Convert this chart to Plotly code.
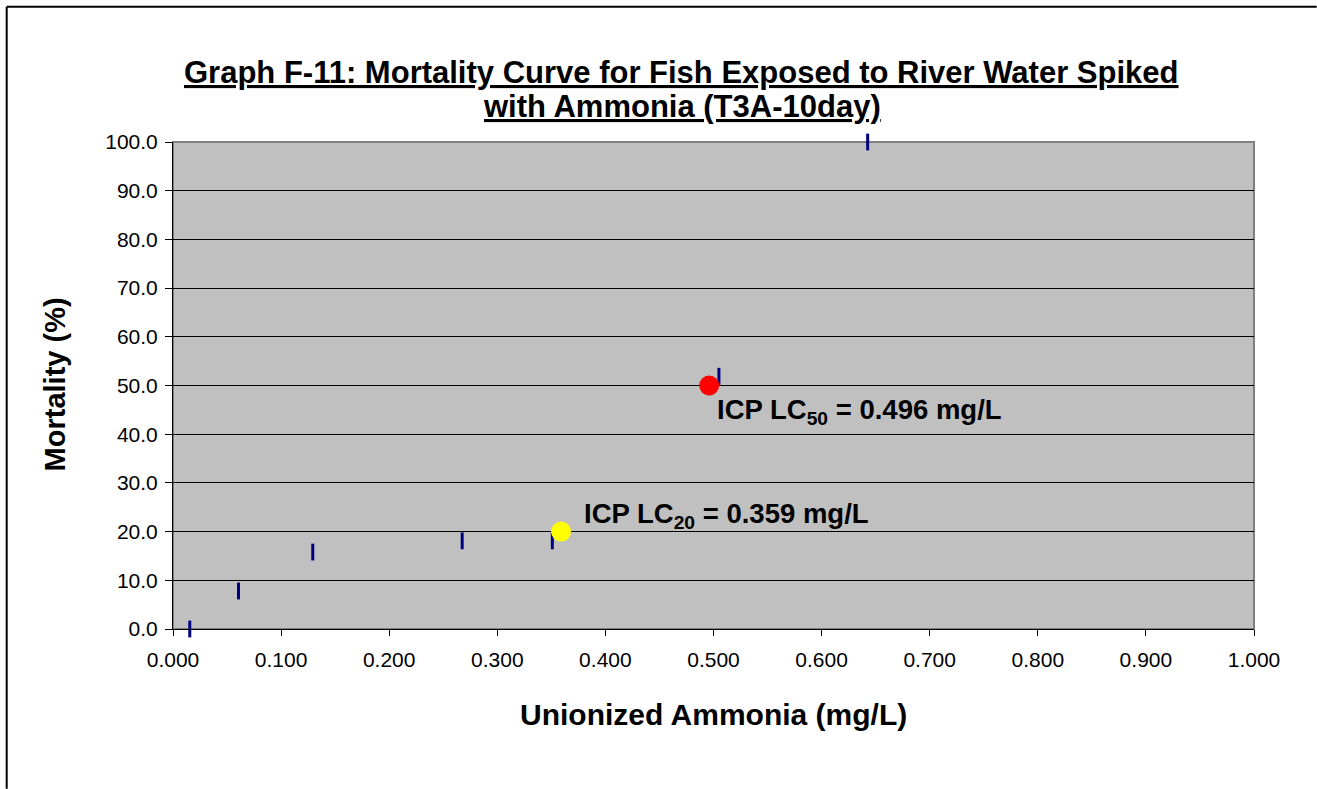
import plotly.graph_objects as go

# Observed mortality at each unionized ammonia concentration
ammonia_mg_l = [0.0155, 0.0606, 0.1293, 0.2675, 0.3509, 0.5050, 0.6426]
mortality_pct = [0.0, 7.8, 15.8, 18.1, 18.1, 51.9, 100.0]

# ICP point estimates
lc_labels = ["ICP LC<sub>50</sub> = 0.496 mg/L", "ICP LC<sub>20</sub> = 0.359 mg/L"]
lc_conc = [0.496, 0.359]
lc_mortality = [50.0, 20.0]
lc_colors = ["#FF0000", "#FFFF00"]

title_lines = ["Graph F-11: Mortality Curve for Fish Exposed to River Water Spiked",
               "with Ammonia (T3A-10day)"]

x_ticks = [i / 10 for i in range(11)]
y_ticks = [i * 10 for i in range(11)]

FONT = "Liberation Sans, Arial, sans-serif"

# plot-area geometry in pixels
L, T, W, H = 173.3, 142.3, 1081.0, 487.0


def px_x(px):
    return (px - L) / W


def px_y(py):
    return (T + H - py) / H


fig = go.Figure()

fig.add_trace(go.Scatter(
    x=ammonia_mg_l, y=mortality_pct, mode="markers", cliponaxis=False,
    marker=dict(symbol="line-ns", size=12, color="#000080",
                line=dict(width=3, color="#000080")),
    showlegend=False, hoverinfo="x+y",
))

for conc, mort, col in zip(lc_conc, lc_mortality, lc_colors):
    fig.add_trace(go.Scatter(
        x=[conc], y=[mort], mode="markers", cliponaxis=False,
        marker=dict(symbol="circle", size=20, color=col, line=dict(width=0)),
        showlegend=False,
    ))

bold = dict(family=FONT, color="black", weight="bold")

annotations = [
    dict(text=f"<u>{title_lines[0]}</u>", xref="paper", yref="paper",
         x=px_x(682), y=px_y(73), xanchor="center", yanchor="middle",
         showarrow=False, font=dict(size=31, **bold)),
    dict(text=f"<u>{title_lines[1]}</u>", xref="paper", yref="paper",
         x=px_x(682), y=px_y(107), xanchor="center", yanchor="middle",
         showarrow=False, font=dict(size=31, **bold)),
    dict(text="Unionized Ammonia (mg/L)", xref="paper", yref="paper",
         x=px_x(713.6), y=px_y(715), xanchor="center", yanchor="middle",
         showarrow=False, font=dict(size=30, **bold)),
    dict(text="Mortality (%)", xref="paper", yref="paper", textangle=-90,
         x=px_x(55), y=px_y(385), xanchor="center", yanchor="middle",
         showarrow=False, font=dict(size=29, **bold)),
    dict(text=lc_labels[0], xref="x", yref="y", x=lc_conc[0], y=lc_mortality[0],
         xanchor="left", yanchor="middle", xshift=6, yshift=-26, showarrow=False,
         font=dict(size=27.5, **bold)),
    dict(text=lc_labels[1], xref="x", yref="y", x=lc_conc[1], y=lc_mortality[1],
         xanchor="left", yanchor="middle", xshift=21, yshift=16, showarrow=False,
         font=dict(size=27.5, **bold)),
]

frame = dict(color="black", width=2)
left_edge = f"M{px_x(7)},{px_y(7)}L{px_x(7)},{px_y(789)}"
top_edge = f"M{px_x(7)},{px_y(7)}L{px_x(1317)},{px_y(7)}"

fig.update_layout(
    width=1317, height=789,
    margin=dict(l=L, r=1317 - L - W, t=T, b=789 - T - H),
    paper_bgcolor="white", plot_bgcolor="#C0C0C0",
    annotations=annotations,
    shapes=[
        # outer chart frame: left and top edges
        dict(type="path", xref="paper", yref="paper", path=left_edge, line=frame, layer="above"),
        dict(type="path", xref="paper", yref="paper", path=top_edge, line=frame, layer="above"),
        # plot area border
        dict(type="rect", xref="paper", yref="paper", x0=0, x1=1, y0=0, y1=1,
             line=dict(color="#808080", width=2), fillcolor="rgba(0,0,0,0)", layer="below"),
    ],
)

fig.update_xaxes(
    range=[0, 1], tickvals=x_ticks, tickformat=".3f",
    showgrid=False, zeroline=False,
    showline=True, linecolor="black", linewidth=1,
    ticks="outside", ticklen=6, tickcolor="black", ticklabelstandoff=6,
    tickfont=dict(family=FONT, size=21, color="black"),
)

fig.update_yaxes(
    range=[0, 100], tickvals=y_ticks, tickformat=".1f",
    showgrid=True, gridcolor="black", gridwidth=1, zeroline=False,
    showline=True, linecolor="black", linewidth=1,
    ticks="outside", ticklen=7, tickcolor="black", ticklabelstandoff=3,
    tickfont=dict(family=FONT, size=21, color="black"),
)

fig.write_html("out.html")
